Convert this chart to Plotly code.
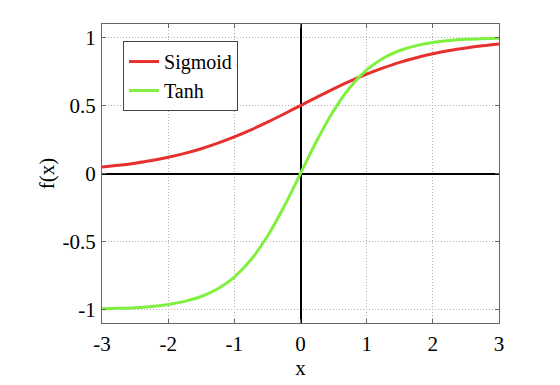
import plotly.graph_objects as go

x_vals = [-3, -2.75, -2.5, -2.25, -2, -1.75, -1.5, -1.25, -1, -0.75, -0.5, -0.25, 0,
          0.25, 0.5, 0.75, 1, 1.25, 1.5, 1.75, 2, 2.25, 2.5, 2.75, 3]
sigmoid_vals = [0.047, 0.060, 0.076, 0.095, 0.119, 0.148, 0.182, 0.223, 0.269, 0.321, 0.378, 0.438, 0.5,
                0.562, 0.622, 0.679, 0.731, 0.777, 0.818, 0.852, 0.881, 0.905, 0.924, 0.940, 0.953]
tanh_vals = [-0.995, -0.992, -0.987, -0.978, -0.964, -0.941, -0.905, -0.848, -0.762, -0.635, -0.462, -0.245, 0,
             0.245, 0.462, 0.635, 0.762, 0.848, 0.905, 0.941, 0.964, 0.978, 0.987, 0.992, 0.995]
x_ticks = [-3, -2, -1, 0, 1, 2, 3]
x_tick_text = ["-3", "-2", "-1", "0", "1", "2", "3"]
y_ticks = [-1, -0.5, 0, 0.5, 1]
y_tick_text = ["-1", "-0.5", "0", "0.5", "1"]

font = "Liberation Serif"

fig = go.Figure()
fig.add_trace(go.Scatter(x=x_vals, y=sigmoid_vals, mode="lines", name="Sigmoid",
                         line=dict(color="#e5302e", width=3, shape="spline")))
fig.add_trace(go.Scatter(x=x_vals, y=tanh_vals, mode="lines", name="Tanh",
                         line=dict(color="#80f040", width=3, shape="spline")))

axis_common = dict(
    showline=True, linecolor="#666666", linewidth=1, mirror="ticks",
    ticks="inside", ticklen=4, tickcolor="#666666",
    showgrid=True, gridcolor="#b0b0b0", griddash="1px,2px", gridwidth=1,
    zeroline=True, zerolinecolor="black", zerolinewidth=1.8,
    tickfont=dict(family=font, size=21, color="black"),
    automargin=False,
)

fig.update_layout(
    width=560, height=385,
    margin=dict(l=94, r=69, t=16, b=70, autoexpand=False),
    paper_bgcolor="white", plot_bgcolor="white",
    font=dict(family=font, size=21, color="black"),
    xaxis=dict(range=[-3, 3], tickvals=x_ticks, ticktext=x_tick_text, ticklabelstandoff=2,
               title=dict(text="x", standoff=2, font=dict(family=font, size=21)), **axis_common),
    yaxis=dict(range=[-1.1, 1.1], tickvals=y_ticks, ticktext=y_tick_text, ticklabelstandoff=1,
               title=dict(text="f(x)", standoff=2, font=dict(family=font, size=21)), **axis_common),
    legend=dict(x=0.053, y=0.943, xanchor="left", yanchor="top",
                bordercolor="#444444", borderwidth=1, bgcolor="white",
                font=dict(family=font, size=20), tracegroupgap=0),
    showlegend=True,
)

fig.write_html("out.html")
